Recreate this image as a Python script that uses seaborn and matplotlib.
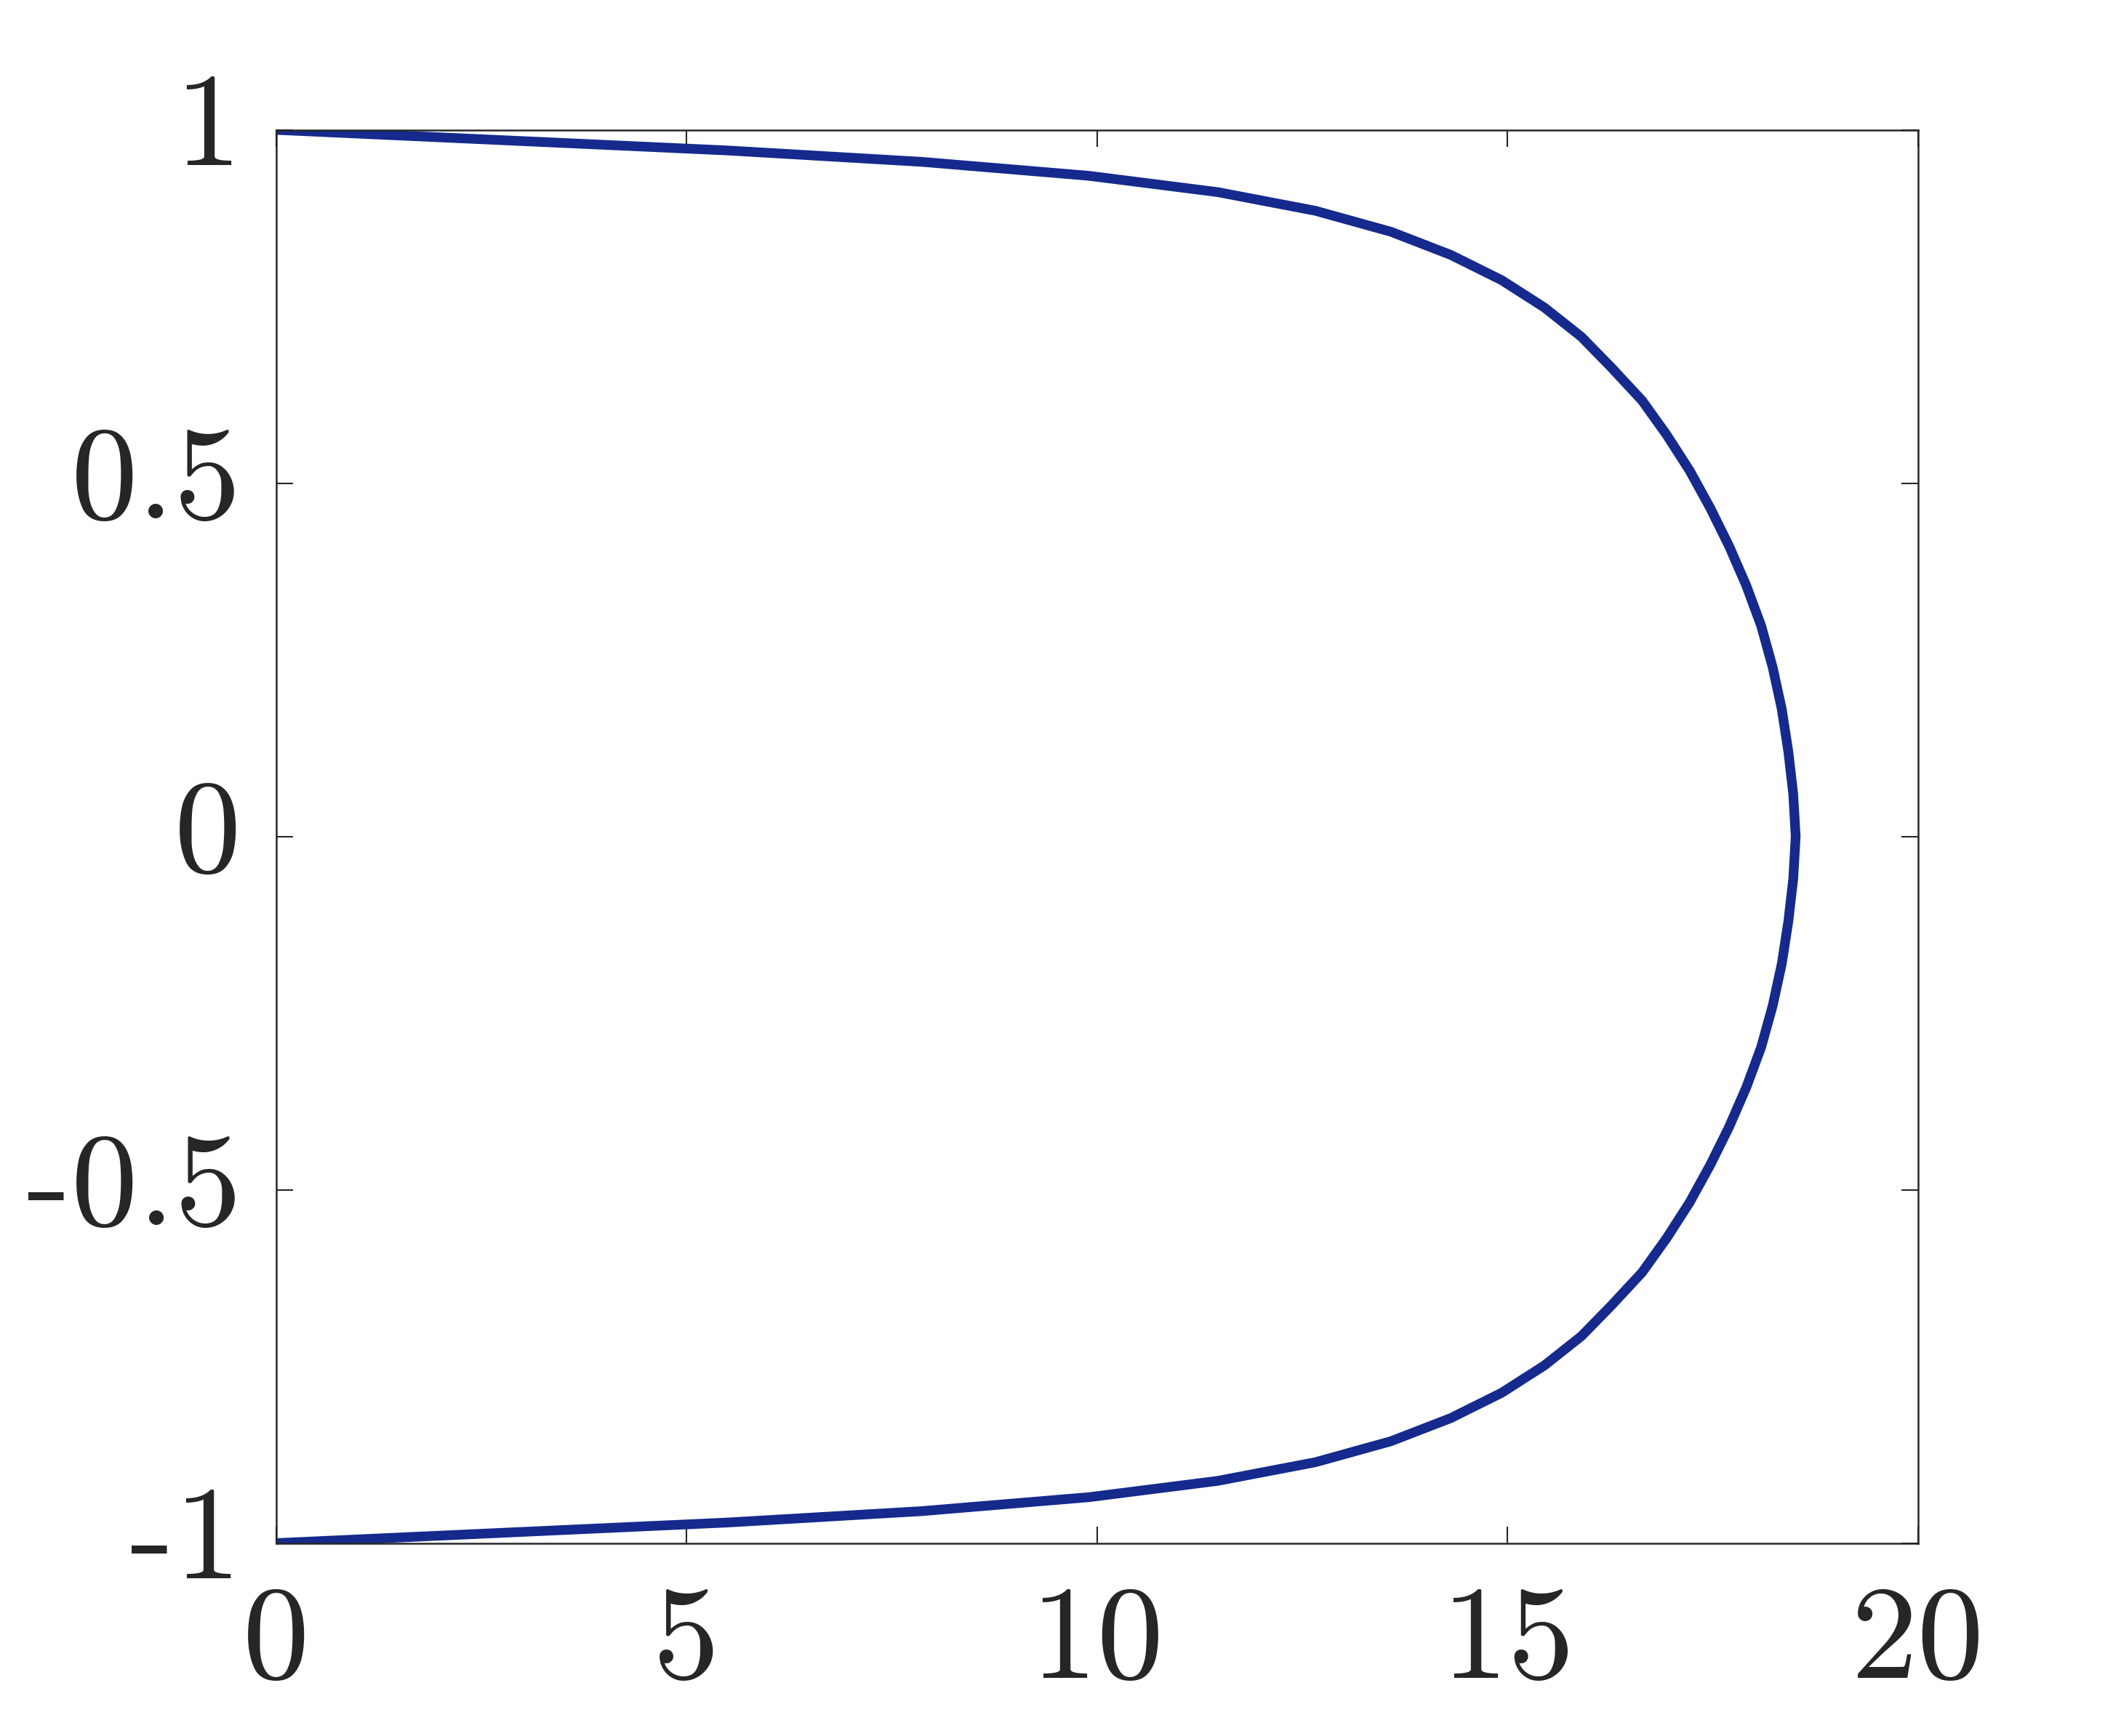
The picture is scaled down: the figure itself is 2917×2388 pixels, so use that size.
import pandas as pd
import matplotlib
matplotlib.use("Agg")
import matplotlib.pyplot as plt
import matplotlib.transforms as mtransforms
import seaborn as sns

# velocity profile (wall at y=+1 and y=-1)
u_vals = [0.0, 5.49, 7.87, 9.90, 11.47, 12.66, 13.58, 14.31, 14.93, 15.45,
          15.90, 16.27, 16.64, 16.94, 17.22, 17.47, 17.70, 17.91, 18.09, 18.23,
          18.34, 18.42, 18.48, 18.51,
          18.48, 18.42, 18.34, 18.23, 18.09, 17.91, 17.70, 17.47, 17.22, 16.94,
          16.64, 16.27, 15.90, 15.45, 14.93, 14.31, 13.58, 12.66, 11.47, 9.90,
          7.87, 5.49, 0.0]
y_vals = [1.0, 0.9709, 0.9547, 0.9350, 0.9119, 0.8855, 0.8558, 0.8230, 0.7872, 0.7485,
          0.7071, 0.6631, 0.6168, 0.5681, 0.5175, 0.4647, 0.4107, 0.3546, 0.2980, 0.2393,
          0.1805, 0.1205, 0.0603, 0.0,
          -0.0603, -0.1205, -0.1805, -0.2393, -0.2980, -0.3546, -0.4107, -0.4647, -0.5175, -0.5681,
          -0.6168, -0.6631, -0.7071, -0.7485, -0.7872, -0.8230, -0.8558, -0.8855, -0.9119, -0.9350,
          -0.9547, -0.9709, -1.0]

xticks = [0, 5, 10, 15, 20]
xtick_labels = ["0", "5", "10", "15", "20"]
yticks = [-1, -0.5, 0, 0.5, 1]
ytick_labels = ["-1", "-0.5", "0", "0.5", "1"]

df = pd.DataFrame({"u": u_vals, "y": y_vals})

sns.set_style("white")
plt.rcParams["font.family"] = ["cmr10", "DejaVu Sans"]
plt.rcParams["axes.unicode_minus"] = False

fig = plt.figure(figsize=(2917 / 300, 2388 / 300), dpi=300)
ax = fig.add_axes([0.1301, 0.1111, 0.9043 - 0.1301, 0.9252 - 0.1111])

sns.lineplot(data=df, x="u", y="y", sort=False, estimator=None,
             color="#152a8c", linewidth=3.2, ax=ax)

ax.set_xlim(0, 20)
ax.set_ylim(-1, 1)
ax.set_xticks(xticks)
ax.set_xticklabels(xtick_labels)
ax.set_yticks(yticks)
ax.set_yticklabels(ytick_labels)
ax.set_xlabel("")
ax.set_ylabel("")

ax.tick_params(axis="both", direction="in", length=5.5, width=0.5,
               color="#262626", labelsize=44, labelcolor="#262626",
               top=True, right=True, bottom=True, left=True)
ax.tick_params(axis="x", pad=14)
ax.tick_params(axis="y", pad=11.5)
for sp in ax.spines.values():
    sp.set_visible(True)
    sp.set_linewidth(0.6)
    sp.set_color("#262626")

# y labels sit a little above their ticks in the original
shift = mtransforms.ScaledTranslation(0, 15 / 300, fig.dpi_scale_trans)
for lbl in ax.get_yticklabels():
    lbl.set_transform(lbl.get_transform() + shift)

fig.savefig("out.png", dpi=300)
